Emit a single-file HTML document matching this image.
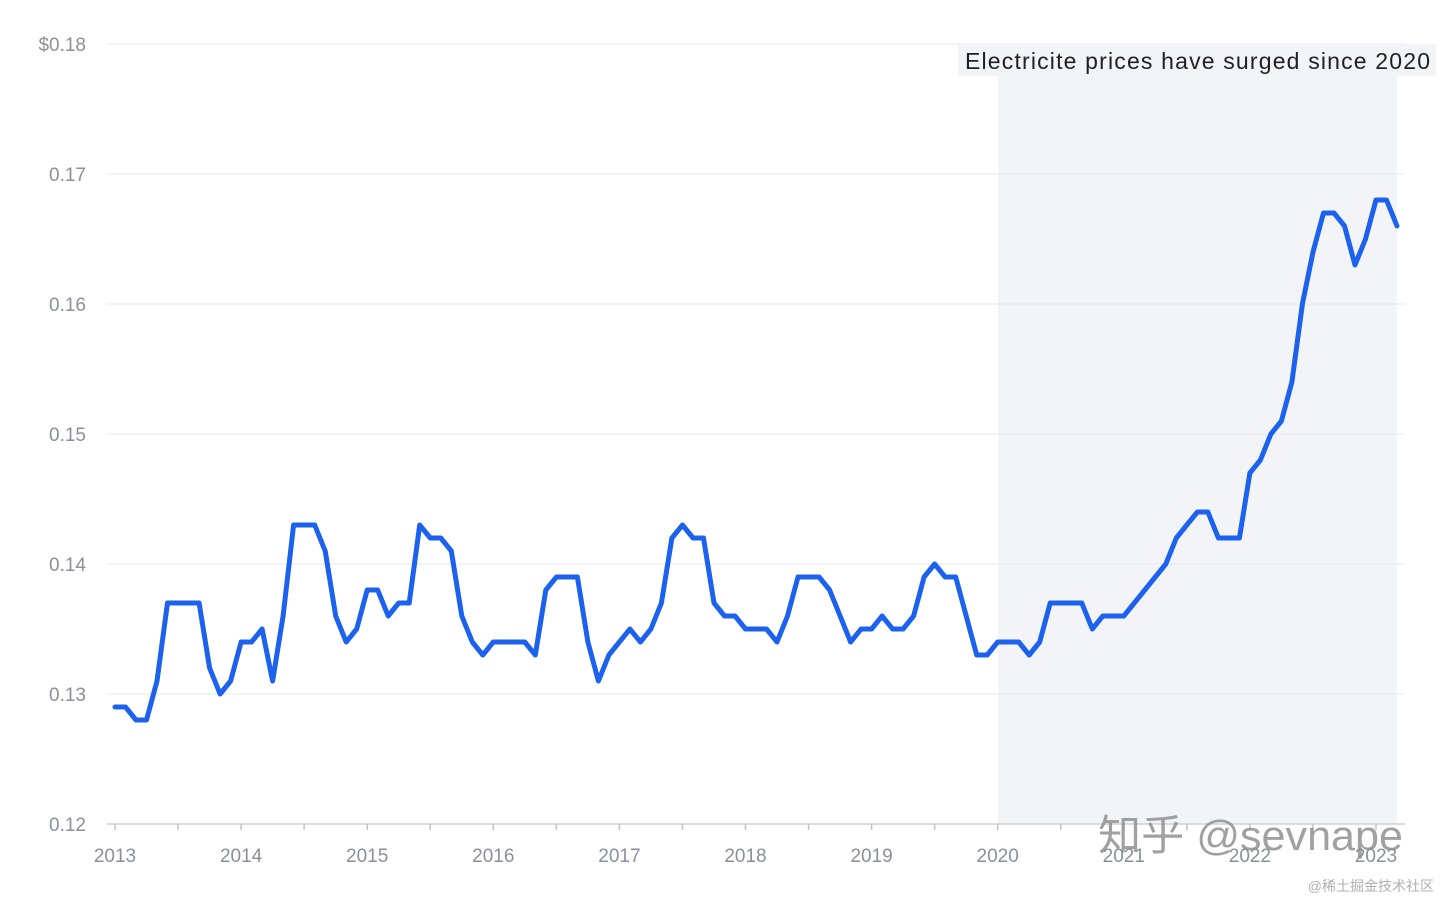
<!DOCTYPE html>
<html><head><meta charset="utf-8">
<style>
html,body{margin:0;padding:0;background:#fff;}
svg{display:block;font-family:"Liberation Sans","Noto Sans CJK SC",sans-serif;}
</style></head>
<body>
<svg id="chart" width="1440" height="900" viewBox="0 0 1440 900">
  <rect x="998" y="44" width="399" height="780" fill="#f3f4f7"/>
  <g id="grid"></g>
  <g id="yticks"></g>
  <line x1="107" y1="824" x2="1405" y2="824" stroke="#cfd2d8" stroke-width="1.5"/>
  <g id="xticks"></g>
  <path id="line" fill="none" stroke="#1c62ee" stroke-width="5" stroke-linejoin="round" stroke-linecap="round"/>
  <rect x="958" y="44" width="478" height="32" fill="#f3f4f7"/>
  <text x="965" y="69" textLength="465" lengthAdjust="spacing" font-size="23" fill="#1f1f24">Electricite prices have surged since 2020</text>
  <text x="1098" y="850" textLength="305" lengthAdjust="spacingAndGlyphs" font-size="42" fill="#8a8a8a" fill-opacity="0.8">知乎 @sevnape</text>
  <text x="1434" y="891" text-anchor="end" font-size="14" fill="#b0b0b0">@稀土掘金技术社区</text>
</svg>
<script>
const startYear = 2013;
const yearLabels = ["2013","2014","2015","2016","2017","2018","2019","2020","2021","2022","2023"];
const yTickValues = [0.12,0.13,0.14,0.15,0.16,0.17,0.18];
const yTickLabels = ["0.12","0.13","0.14","0.15","0.16","0.17","$0.18"];
const prices = [
0.129,0.129,0.128,0.128,0.131,0.137,0.137,0.137,0.137,0.132,0.130,0.131,
0.134,0.134,0.135,0.131,0.136,0.143,0.143,0.143,0.141,0.136,0.134,0.135,
0.138,0.138,0.136,0.137,0.137,0.143,0.142,0.142,0.141,0.136,0.134,0.133,
0.134,0.134,0.134,0.134,0.133,0.138,0.139,0.139,0.139,0.134,0.131,0.133,
0.134,0.135,0.134,0.135,0.137,0.142,0.143,0.142,0.142,0.137,0.136,0.136,
0.135,0.135,0.135,0.134,0.136,0.139,0.139,0.139,0.138,0.136,0.134,0.135,
0.135,0.136,0.135,0.135,0.136,0.139,0.140,0.139,0.139,0.136,0.133,0.133,
0.134,0.134,0.134,0.133,0.134,0.137,0.137,0.137,0.137,0.135,0.136,0.136,
0.136,0.137,0.138,0.139,0.140,0.142,0.143,0.144,0.144,0.142,0.142,0.142,
0.147,0.148,0.150,0.151,0.154,0.160,0.164,0.167,0.167,0.166,0.163,0.165,
0.168,0.168,0.166];

const NS = "http://www.w3.org/2000/svg";
const x = m => 115 + m * (1376 - 115) / 120;
const y = v => 824 - (v - 0.12) * (780 / 0.06);

const grid = document.getElementById('grid');
const yt = document.getElementById('yticks');
yTickValues.forEach((v, i) => {
  if (i > 0) {
    const l = document.createElementNS(NS, 'line');
    
    
    l.setAttribute('x1', 107); l.setAttribute('x2', 1405);
    l.setAttribute('y1', y(v)); l.setAttribute('y2', y(v));
    l.setAttribute('stroke', '#ececef'); l.setAttribute('stroke-width', 1.2);
    grid.appendChild(l);
  }
  const t = document.createElementNS(NS, 'text');
  
  
  t.setAttribute('x', 86); t.setAttribute('y', y(v) + 7);
  t.setAttribute('text-anchor', 'end'); t.setAttribute('font-size', 19);
  t.setAttribute('fill', '#8a8f99');
  t.textContent = yTickLabels[i];
  yt.appendChild(t);
});

const xt = document.getElementById('xticks');
for (let m = 0; m <= 120; m += 6) {
  const l = document.createElementNS(NS, 'line');
  
  
  l.setAttribute('x1', x(m)); l.setAttribute('x2', x(m));
  l.setAttribute('y1', 824); l.setAttribute('y2', 830);
  l.setAttribute('stroke', '#bfc3ca'); l.setAttribute('stroke-width', 1.5);
  xt.appendChild(l);
}
yearLabels.forEach((lab, i) => {
  const t = document.createElementNS(NS, 'text');
  
  
  t.setAttribute('x', x(i * 12)); t.setAttribute('y', 862);
  t.setAttribute('text-anchor', 'middle'); t.setAttribute('font-size', 19);
  t.setAttribute('fill', '#8a8f99');
  t.textContent = lab;
  xt.appendChild(t);
});

document.getElementById('line').setAttribute('d',
  prices.map((v, i) => (i ? 'L' : 'M') + x(i).toFixed(1) + ',' + y(v).toFixed(1)).join(' '));
</script>
</body></html>
